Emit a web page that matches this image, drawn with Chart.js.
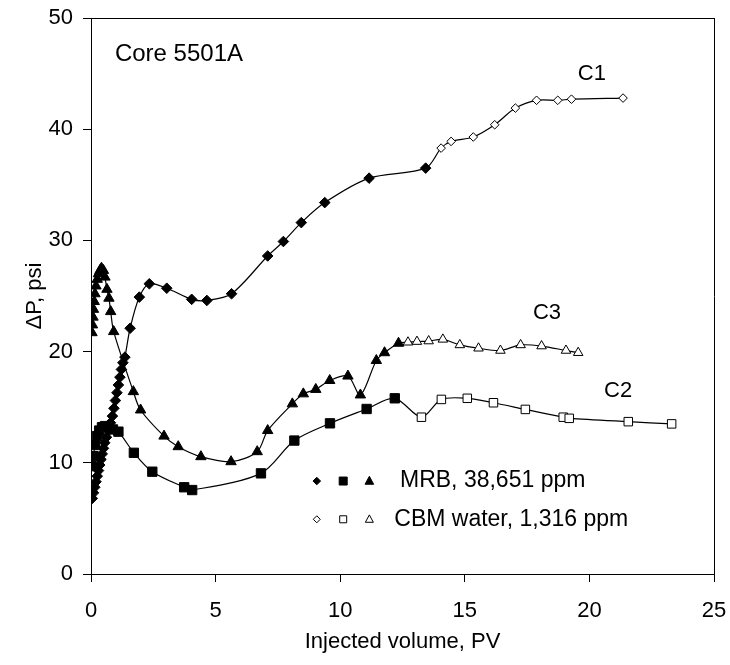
<!DOCTYPE html>
<html>
<head>
<meta charset="utf-8">
<script src="https://cdn.jsdelivr.net/npm/chart.js@4/dist/chart.umd.min.js"></script>
<style>
html,body{margin:0;padding:0;background:#fff}
#wrap{width:730px;height:665px}
</style>
</head>
<body>
<div id="wrap"><canvas id="chart" width="730" height="665"></canvas></div>
<script>

// C1 = diamonds, C2 = squares, C3 = triangles
// first part of each curve is MRB brine (filled), then CBM water (open)

let c1MrbX=[0.05,0.1,0.15,0.2,0.25,0.3,0.35,0.4,0.45,0.5,0.55,0.62,0.7,0.78,0.86,0.92,0.98,1.04,1.1,1.16,1.22,1.28,1.36,1.57,1.94,2.34,3.04,4.04,4.65,5.64,7.09,7.72,8.44,9.38,11.16,13.43]
let c1MrbY=[6.8,7.3,7.8,8.3,8.8,9.3,9.8,10.3,10.8,11.3,11.8,12.3,12.9,13.6,14.2,14.9,15.6,16.3,17.0,17.7,18.4,19.0,19.5,22.1,24.9,26.1,25.7,24.7,24.6,25.2,28.6,29.9,31.6,33.4,35.6,36.5]
let c1CbmX=[14.05,14.45,15.34,16.2,17.03,17.88,18.73,19.28,21.35]
let c1CbmY=[38.3,38.9,39.3,40.4,41.9,42.6,42.6,42.7,42.8]

let c2MrbX=[0.03,0.1,0.16,0.24,0.33,0.44,0.56,0.7,0.88,1.1,1.72,2.46,3.74,4.06,6.82,8.16,9.59,11.06,12.19]
let c2MrbY=[9.7,10.6,11.6,12.4,12.9,13.2,13.3,13.2,13.0,12.8,10.9,9.2,7.8,7.55,9.05,12.0,13.55,14.84,15.8]
let c2CbmX=[13.26,14.06,15.1,16.15,17.43,18.95,19.19,21.56,23.3]
let c2CbmY=[14.1,15.7,15.8,15.4,14.8,14.1,14.0,13.7,13.5]

let c3MrbX=[0.04,0.06,0.08,0.1,0.13,0.16,0.2,0.25,0.3,0.36,0.42,0.5,0.56,0.64,0.72,0.79,0.91,1.7,1.99,2.93,3.5,4.41,5.62,6.67,7.09,8.08,8.52,9.02,9.58,10.31,10.81,11.45,11.78,12.34]
let c3MrbY=[21.7,22.4,23.1,23.8,24.5,25.2,25.9,26.5,27.0,27.3,27.5,27.3,26.7,25.6,24.8,23.6,21.8,16.4,14.75,12.4,11.45,10.55,10.1,11.0,12.9,15.3,16.2,16.6,17.4,17.8,16.1,19.2,19.9,20.75]
let c3CbmX=[12.72,13.08,13.55,14.12,14.8,15.55,16.43,17.24,18.08,19.06,19.55]
let c3CbmY=[20.84,20.9,20.95,21.1,20.6,20.3,20.1,20.6,20.5,20.1,19.9]

let xTicks=[0,5,10,15,20,25]
let yTicks=[0,10,20,30,40,50]

let legendNames=["MRB, 38,651 ppm","CBM water, 1,316 ppm"]
let curveNames=["C1","C2","C3"]
let coreName="Core 5501A"


const FONT='"Liberation Sans", Arial, sans-serif'


function points(xs,ys){
  return xs.map((x,i)=>({x:x,y:ys[i]}))
}


function curve(label,mrbX,mrbY,cbmX,cbmY,style,rFill,rOpen){

  let n=mrbX.length

  return {
    label:label,
    data:points(mrbX,mrbY).concat(points(cbmX,cbmY)),
    showLine:true,
    borderColor:"#000",
    borderWidth:1.2,
    tension:0.3,
    pointStyle:style,
    pointRadius:ctx=>ctx.dataIndex<n ? rFill : rOpen,
    pointHoverRadius:ctx=>ctx.dataIndex<n ? rFill : rOpen,
    pointBackgroundColor:ctx=>ctx.dataIndex<n ? "#000" : "#fff",
    pointBorderColor:"#000",
    pointBorderWidth:1
  }

}


function marker(ctx,style,x,y,r,fill){

  ctx.beginPath()

  if(style=="rectRot"){
    ctx.moveTo(x,y-r);ctx.lineTo(x+r,y);ctx.lineTo(x,y+r);ctx.lineTo(x-r,y)
  }
  else if(style=="rect"){
    ctx.rect(x-r,y-r,2*r,2*r)
  }
  else{
    ctx.moveTo(x,y-r*1.1);ctx.lineTo(x+r,y+r*0.75);ctx.lineTo(x-r,y+r*0.75)
  }

  ctx.closePath()
  ctx.fillStyle=fill
  ctx.fill()
  ctx.lineWidth=1
  ctx.strokeStyle="#000"
  ctx.stroke()

}


// curve labels, core name and the small legend inside the plot
const notesPlugin={

  id:"notes",

  afterDatasetsDraw(chart){

    let ctx=chart.ctx
    let sx=chart.scales.x
    let sy=chart.scales.y

    let notes=[
      {text:coreName,x:0.96,y:46.7,align:"left",size:24},
      {text:curveNames[0],x:20.1,y:45.0},
      {text:curveNames[2],x:18.3,y:23.5},
      {text:curveNames[1],x:21.15,y:16.5}
    ]

    ctx.save()
    ctx.fillStyle="#000"
    ctx.textBaseline="middle"

    notes.forEach(n=>{
      ctx.font=(n.size||22)+"px "+FONT
      ctx.textAlign=n.align||"center"
      ctx.fillText(n.text,sx.getPixelForValue(n.x),sy.getPixelForValue(n.y))
    })

    let rows=[
      {text:legendNames[0],y:8.36,fill:"#000",tx:12.4,r:[3.8,4,4.3]},
      {text:legendNames[1],y:4.92,fill:"#fff",tx:12.17,r:[3.5,3.5,4]}
    ]
    let styles=["rectRot","rect","triangle"]
    let mx=[9.06,10.12,11.17]

    rows.forEach(row=>{
      let py=sy.getPixelForValue(row.y)
      styles.forEach((s,i)=>{
        marker(ctx,s,sx.getPixelForValue(mx[i]),py,row.r[i],row.fill)
      })
      ctx.fillStyle="#000"
      ctx.font="23px "+FONT
      ctx.textAlign="left"
      ctx.fillText(row.text,sx.getPixelForValue(row.tx),py)
    })

    ctx.restore()

  }

}


// no label overflow padding, so the plot box is set by layout padding only
function noPad(s){
  s.paddingLeft=0
  s.paddingRight=0
  s.paddingTop=0
  s.paddingBottom=0
}


function edgeAxis(pos){
  return {
    type:"linear",
    position:pos,
    min:0,
    max:pos=="top" ? 25 : 50,
    grid:{drawOnChartArea:false,drawTicks:false},
    border:{display:true,color:"#000",width:1},
    ticks:{display:false},
    afterFit:s=>{ noPad(s); if(pos=="top") s.height=0; else s.width=0 }
  }
}


new Chart(document.getElementById("chart"),{

  type:"scatter",

  data:{
    datasets:[
      curve(curveNames[0],c1MrbX,c1MrbY,c1CbmX,c1CbmY,"rectRot",5.3,4.3),
      curve(curveNames[1],c2MrbX,c2MrbY,c2CbmX,c2CbmY,"rect",6.6,6),
      curve(curveNames[2],c3MrbX,c3MrbY,c3CbmX,c3CbmY,"triangle",6,5.5)
    ]
  },

  options:{

    responsive:false,
    animation:false,
    devicePixelRatio:1,

    layout:{padding:{left:0,right:16,top:18,bottom:0}},

    plugins:{
      legend:{display:false},
      tooltip:{enabled:false}
    },

    scales:{

      x:{
        type:"linear",
        position:"bottom",
        min:0,
        max:25,
        afterBuildTicks:s=>{ s.ticks=xTicks.map(v=>({value:v})) },
        grid:{drawOnChartArea:false,drawTicks:true,tickLength:8,tickColor:"#000"},
        border:{display:true,color:"#000",width:1},
        ticks:{color:"#000",font:{family:FONT,size:22},padding:16,maxRotation:0},
        title:{display:true,text:"Injected volume, PV",color:"#000",font:{family:FONT,size:22},padding:{top:1,bottom:10}},
        afterFit:s=>{ noPad(s); s.height=91 }
      },

      y:{
        type:"linear",
        position:"left",
        min:0,
        max:50,
        afterBuildTicks:s=>{ s.ticks=yTicks.map(v=>({value:v})) },
        grid:{drawOnChartArea:false,drawTicks:true,tickLength:8,tickColor:"#000"},
        border:{display:true,color:"#000",width:1},
        ticks:{color:"#000",font:{family:FONT,size:22},padding:10},
        title:{display:true,text:"ΔP, psi",color:"#000",font:{family:FONT,size:22},padding:{top:22,bottom:0}},
        afterFit:s=>{ noPad(s); s.width=91 }
      },

      x2:edgeAxis("top"),

      y2:edgeAxis("right")

    }

  },

  plugins:[notesPlugin]

})

</script>
</body>
</html>
